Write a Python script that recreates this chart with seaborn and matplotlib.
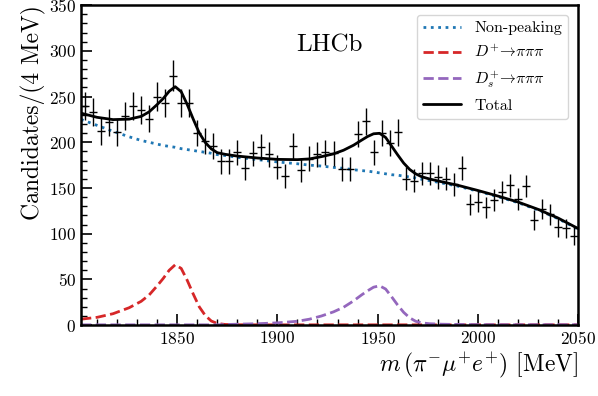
import numpy as np
import matplotlib
matplotlib.use("Agg")
import matplotlib.pyplot as plt
import seaborn as sns

# data: bin centres (4 MeV bins) and candidate counts
mass = list(range(1804, 2050, 4))
counts = [240, 233, 212, 222, 211, 229, 240, 235, 226, 250,
          243, 273, 243, 243, 210, 201, 196, 179, 179, 189,
          172, 188, 195, 187, 173, 163, 196, 170, 182, 187,
          189, 188, 171, 171, 209, 223, 189, 210, 199, 211,
          160, 158, 166, 166, 162, 160, 154, 172, 132, 135,
          129, 137, 146, 153, 138, 152, 115, 127, 121, 107,
          106, 98]

# fit components
m_fit = [1802, 1810, 1818, 1826, 1832, 1836, 1840, 1843, 1846, 1849,
         1852, 1855, 1858, 1861, 1864, 1867, 1870, 1874, 1880, 1890,
         1900, 1910, 1916, 1922, 1928, 1933, 1938, 1942, 1945, 1948,
         1951, 1954, 1957, 1960, 1963, 1966, 1969, 1972, 1976, 1982,
         1990, 2000, 2010, 2020, 2030, 2040, 2050]
bkg = [225, 218.5, 212, 206, 202, 200, 198, 196.5, 195.5, 194.5,
       193, 192, 191, 190, 189, 188, 186.5, 185.5, 183.5, 181,
       178.5, 176.5, 175, 174, 172.5, 171.5, 170, 169, 168.5, 167.5,
       166.5, 165.5, 164.5, 164, 163, 162, 161, 159.5, 158, 155.5,
       152, 146.5, 140.5, 134, 126, 116.5, 105]
dplus = [6.5, 8.5, 12.5, 19, 26, 33, 43, 51, 60, 66,
         62, 49, 34, 20, 10.5, 4.5, 1.8, 0.7, 0.4, 0.3,
         0.3, 0.3, 0.3, 0.3, 0.3, 0.3, 0.3, 0.3, 0.3, 0.3,
         0.3, 0.3, 0.3, 0.3, 0.3, 0.3, 0.3, 0.3, 0.3, 0.3,
         0.3, 0.3, 0.3, 0.3, 0.3, 0.3, 0.3]
dsplus = [0.3, 0.3, 0.3, 0.3, 0.3, 0.3, 0.3, 0.3, 0.3, 0.3,
          0.3, 0.3, 0.3, 0.3, 0.3, 0.3, 0.3, 0.6, 1.0, 1.5,
          2.5, 4.2, 6.5, 10, 14.5, 19.5, 26.5, 33, 37.5, 41.5,
          43, 39.5, 31, 22, 14, 8, 4.2, 2.5, 1.5, 1.0,
          0.7, 0.5, 0.4, 0.4, 0.4, 0.4, 0.4]
total = [b + p + s for b, p, s in zip(bkg, dplus, dsplus)]

sns.set_style("ticks")
plt.rcParams["font.family"] = ["cmr10", "DejaVu Serif"]
plt.rcParams["mathtext.fontset"] = "cm"
plt.rcParams["axes.formatter.use_mathtext"] = True
plt.rcParams["axes.unicode_minus"] = False
for k in ["text.color", "axes.labelcolor", "xtick.color", "ytick.color", "axes.edgecolor"]:
    plt.rcParams[k] = "black"

fig = plt.figure(figsize=(5.98, 3.96), dpi=100)
ax = fig.add_axes([0.1355, 0.179, 0.831, 0.808])

sns.lineplot(x=m_fit, y=bkg, ax=ax, color="tab:blue", linestyle=":", lw=2, label="Non-peaking")
sns.lineplot(x=m_fit, y=dplus, ax=ax, color="tab:red", linestyle="--", lw=2,
             label=r"$D^{+}\!\rightarrow\!\pi\pi\pi$")
sns.lineplot(x=m_fit, y=dsplus, ax=ax, color="tab:purple", linestyle="--", lw=2,
             label=r"$D_s^{+}\!\rightarrow\!\pi\pi\pi$")
sns.lineplot(x=m_fit, y=total, ax=ax, color="black", lw=2, label="Total")

ax.errorbar(mass, counts, yerr=np.sqrt(counts), xerr=2, fmt="none",
            ecolor="black", elinewidth=1, capsize=0, zorder=5)

ax.set_xlim(1802, 2050)
ax.set_ylim(0, 350)
ax.set_xticks([1850, 1900, 1950, 2000, 2050])
ax.set_xticks(range(1810, 2050, 10), minor=True)
ax.set_yticks(range(0, 351, 50))
ax.set_yticks(range(0, 351, 10), minor=True)
ax.tick_params(which="major", direction="in", length=8, width=1.2, labelsize=12.5)
ax.tick_params(which="minor", direction="in", length=4, width=1.0)
for sp in ax.spines.values():
    sp.set_linewidth(1.8)
    sp.set_color("black")

ax.set_xlabel(r"$m\,(\pi^{-}\mu^{+}e^{+})$ [MeV]", fontsize=17, loc="right", labelpad=2)
ax.set_ylabel("Candidates/(4 MeV)", fontsize=17, loc="top", labelpad=2)

ax.text(0.5, 0.875, "LHCb", transform=ax.transAxes, fontsize=18, ha="center", va="center")

ax.legend(loc="upper right", fontsize=11.5, handlelength=2.4, frameon=True,
          borderaxespad=0.6, labelspacing=0.55)

fig.savefig("out.png", dpi=100)
